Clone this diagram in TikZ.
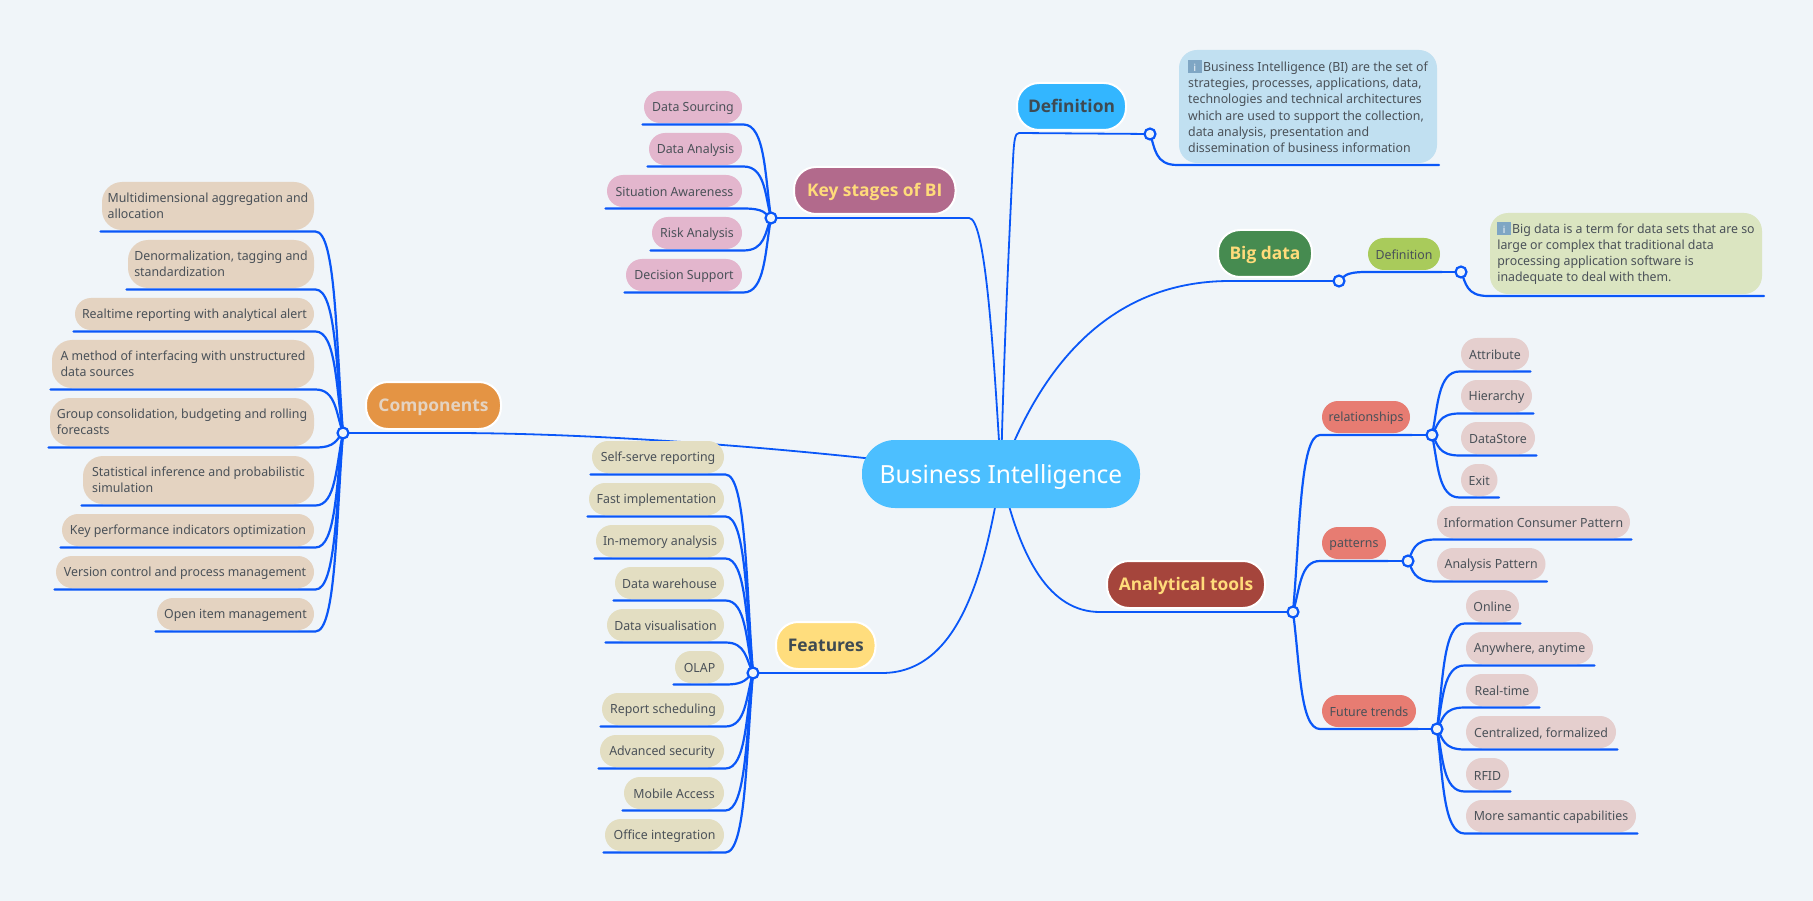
\documentclass[tikz,border=0pt]{standalone}
\usepackage{fontspec}
\setmainfont{Noto Sans}[FakeStretch=0.98]
\newfontfamily\titlefont{Open Sans}
\usetikzlibrary{backgrounds,calc}
\definecolor{bgc}{HTML}{F0F5F9}
\definecolor{linec}{HTML}{0A57F8}
\definecolor{inkc}{HTML}{4A5158}
\definecolor{darkc}{HTML}{3E4A52}
\definecolor{goldc}{HTML}{FFDB7A}
\definecolor{ctrc}{HTML}{4CBFFF}
\definecolor{defc}{HTML}{33B6FF}
\definecolor{keyc}{HTML}{B26A8C}
\definecolor{bigc}{HTML}{468B50}
\definecolor{anac}{HTML}{A5453C}
\definecolor{feac}{HTML}{FFDD7D}
\definecolor{comc}{HTML}{E49444}
\definecolor{coml}{HTML}{E4D3C1}
\definecolor{feal}{HTML}{E3DEC2}
\definecolor{keyl}{HTML}{E3B6CD}
\definecolor{anal}{HTML}{E5CFCE}
\definecolor{redg}{HTML}{E77C72}
\definecolor{defs}{HTML}{A9CB5B}
\definecolor{noteb}{HTML}{C1E0F1}
\definecolor{noteg}{HTML}{DBE5C1}
\definecolor{iconc}{HTML}{7FA6C4}
\tikzset{
  x=1pt,y=-1pt,
  conn/.style={draw=linec,line width=2.2pt,line cap=round},
  conn2/.style={draw=linec,line width=1.8pt},
  box/.style={inner sep=0pt,outer sep=1.5pt,text=inkc,align=left,
    font=\fontsize{12.6}{16}\selectfont},
  pill/.style={box,rounded corners=16pt,execute at begin node={\rule{0pt}{12pt}}},
  wide/.style={box,rounded corners=20pt},
  notebox/.style={box,outer sep=2pt,rounded corners=18pt,
    font=\fontsize{12.6}{16.3}\selectfont},
  group/.style={pill,fill=redg,outer sep=2pt},
  main/.style={inner sep=0pt,rounded corners=22pt,draw=white,line width=2pt,
    text height=12.5pt,text depth=0pt,
    font=\titlefont\fontsize{17.4}{22}\selectfont\bfseries},
  hubdot/.style={circle,inner sep=0pt,minimum size=11pt,draw=linec,line width=2.2pt,fill=bgc},
}
\newcommand\bx[7][]{% style, name, x0,y0,x1,y1, text
  \node[#1,minimum width={#5-#3},minimum height={#6-#4}] (#2) at ({(#3+#5)/2},{(#4+#6)/2}) {#7};}
\newcommand\lb[3]{% leaf on the left of hub
  \draw[conn] let \p1=(#1.south west),\p2=(#1.south east),\p3=(#2.center) in
    (\p1) -- (\p2) .. controls (\x3-#3pt,\y2) and (\x3-#3pt,{0.45*\y2+0.55*\y3}) .. (\p3);}
\newcommand\rb[3]{% leaf on the right of hub
  \draw[conn] let \p1=(#1.south east),\p2=(#1.south west),\p3=(#2.center) in
    (\p1) -- (\p2) .. controls (\x3+#3pt,\y2) and (\x3+#3pt,{0.45*\y2+0.55*\y3}) .. (\p3);}
\newcommand\infoicon{\textcolor{iconc}{\rule[-1.6pt]{13.4pt}{12.6pt}}\llap{\makebox[13.4pt]{\color{white}\bfseries\fontsize{10}{10}\selectfont i}}\hspace{1.5pt}}
\begin{document}
\begin{tikzpicture}
\useasboundingbox (0,0) rectangle (1813,901);
% central
\bx[inner sep=0pt,rounded corners=33pt,fill=ctrc,text=white,font=\fontsize{25}{30}\selectfont]{ctr}{862}{440}{1140}{508}{\rule{0pt}{25pt}Business Intelligence}
% main topics
\bx[main,fill=defc,text=darkc]{def}{1017}{83}{1126}{130}{Definition}
\bx[main,fill=keyc,text=goldc]{key}{794}{167}{955.5}{214}{Key stages of BI}
\bx[main,fill=bigc,text=goldc]{big}{1218}{230}{1312}{277}{Big data}
\bx[main,fill=anac,text=goldc]{ana}{1107}{561}{1265}{608}{Analytical tools}
\bx[main,fill=feac,text=darkc]{fea}{776}{622}{875.5}{669}{Features}
\bx[main,fill=comc,text=coml]{com}{366}{382}{501}{429}{Components}
% hubs
\node[hubdot] (hD) at (1150,134) {};
\node[hubdot] (hK) at (771,218) {};
\node[hubdot] (hB) at (1339,281) {};
\node[hubdot] (hS) at (1461,272) {};
\node[hubdot] (hA) at (1293,612) {};
\node[hubdot] (hF) at (753,673) {};
\node[hubdot] (hC) at (343,433) {};
\node[hubdot] (hR) at (1432,435) {};
\node[hubdot] (hP) at (1408,561) {};
\node[hubdot] (hT) at (1437,729) {};
% notes
\bx[notebox,fill=noteb]{n1}{1179}{50}{1437}{163}{\infoicon Business Intelligence (BI) are the set of\\strategies, processes, applications, data,\\technologies and technical architectures\\which are used to support the collection,\\data analysis, presentation and\\dissemination of business information}
\bx[group,fill=defs]{sd}{1368}{238}{1440}{270}{Definition}
\bx[notebox,fill=noteg]{n2}{1490}{213}{1762}{294}{\infoicon Big data is a term for data sets that are so\\large or complex that traditional data\\processing application software is\\inadequate to deal with them.}
% key stages
\bx[pill,fill=keyl]{k1}{644}{91}{742}{123}{Data Sourcing}
\bx[pill,fill=keyl]{k2}{649}{133}{742}{165}{Data Analysis}
\bx[pill,fill=keyl]{k3}{607}{175}{742}{207}{Situation Awareness}
\bx[pill,fill=keyl]{k4}{652}{217}{742}{249}{Risk Analysis}
\bx[pill,fill=keyl]{k5}{626}{259}{742}{291}{Decision Support}
% components
\bx[wide,fill=coml]{c1}{102}{182}{314}{230}{Multidimensional aggregation and\\allocation}
\bx[wide,fill=coml]{c2}{128}{240}{314}{288}{Denormalization, tagging and\\standardization}
\bx[pill,fill=coml]{c3}{75}{298}{314}{330}{Realtime reporting with analytical alert}
\bx[wide,fill=coml]{c4}{52}{340}{314}{388}{A method of interfacing with unstructured\\data sources}
\bx[wide,fill=coml]{c5}{50}{398}{314}{446}{Group consolidation, budgeting and rolling\\forecasts}
\bx[wide,fill=coml]{c6}{83}{456}{314}{504}{Statistical inference and probabilistic\\simulation}
\bx[pill,fill=coml]{c7}{62}{514}{314}{546}{Key performance indicators optimization}
\bx[pill,fill=coml]{c8}{56}{556}{314}{588}{Version control and process management}
\bx[pill,fill=coml]{c9}{157}{598}{314}{630}{Open item management}
% features
\bx[pill,fill=feal]{f1}{592}{441}{724}{473}{Self-serve reporting}
\bx[pill,fill=feal]{f2}{589}{483}{724}{515}{Fast implementation}
\bx[pill,fill=feal]{f3}{596}{525}{724}{557}{In-memory analysis}
\bx[pill,fill=feal]{f4}{615}{567}{724}{599}{Data warehouse}
\bx[pill,fill=feal]{f5}{607}{609}{724}{641}{Data visualisation}
\bx[pill,fill=feal]{f6}{675}{651}{724}{683}{OLAP}
\bx[pill,fill=feal]{f7}{602}{693}{724}{725}{Report scheduling}
\bx[pill,fill=feal]{f8}{600}{735}{724}{767}{Advanced security}
\bx[pill,fill=feal]{f9}{624}{777}{724}{809}{Mobile Access}
\bx[pill,fill=feal]{f10}{605}{819}{724}{851}{Office integration}
% analytical groups
\bx[group]{g1}{1322}{401}{1410}{433}{relationships}
\bx[group]{g2}{1322}{527}{1386}{559}{patterns}
\bx[group]{g3}{1322}{695}{1416}{727}{Future trends}
\bx[pill,fill=anal]{r1}{1461}{338}{1529}{370}{Attribute}
\bx[pill,fill=anal]{r2}{1461}{380}{1532}{412}{Hierarchy}
\bx[pill,fill=anal]{r3}{1461}{422}{1535}{454}{DataStore}
\bx[pill,fill=anal]{r4}{1461}{464}{1497.5}{496}{Exit}
\bx[pill,fill=anal]{p1}{1437}{506}{1630}{538}{Information Consumer Pattern}
\bx[pill,fill=anal]{p2}{1437}{548}{1545.5}{580}{Analysis Pattern}
\bx[pill,fill=anal]{t1}{1466}{590}{1519}{622}{Online}
\bx[pill,fill=anal]{t2}{1466}{632}{1593}{664}{Anywhere, anytime}
\bx[pill,fill=anal]{t3}{1466}{674}{1538}{706}{Real-time}
\bx[pill,fill=anal]{t4}{1466}{716}{1616}{748}{Centralized, formalized}
\bx[pill,fill=anal]{t5}{1466}{758}{1509}{790}{RFID}
\bx[pill,fill=anal]{t6}{1466}{800}{1636}{832}{More samantic capabilities}
% connectors
\begin{scope}[on background layer]
\fill[bgc] (0,0) rectangle (1813,901);
\draw[conn2] (hC.center) -- (450,433) .. controls (600,433) and (800,448) .. (ctr.center);
\draw[conn2] (hF.center) -- (882,673) .. controls (960,673) and (985,570) .. (ctr.center);
\draw[conn2] (hK.center) -- (969,218) .. controls (985,218) and (993,340) .. (ctr.center);
\draw[conn2] (hD.center) -- (1019,133) .. controls (1015,133) and (1014,140) .. (1013,160) .. controls (1008,260) and (1003,380) .. (ctr.center);
\draw[conn2] (hB.center) -- (1230,281) .. controls (1130,281) and (1050,340) .. (ctr.center);
\draw[conn2] (hA.center) -- (1100,612) .. controls (1050,612) and (1020,560) .. (ctr.center);
\foreach \i in {1,...,5}{\lb{k\i}{hK}{6}}
\foreach \i in {1,...,9}{\lb{c\i}{hC}{7}}
\foreach \i in {1,...,10}{\lb{f\i}{hF}{7}}
\foreach \i in {1,...,4}{\rb{r\i}{hR}{6}}
\foreach \i in {1,2}{\rb{p\i}{hP}{5}}
\foreach \i in {1,...,6}{\rb{t\i}{hT}{6}}
\foreach \i in {1,2,3}{\rb{g\i}{hA}{7}}
\draw[conn] (g1.south east) -- (hR.center);
\draw[conn] (g2.south east) -- (hP.center);
\draw[conn] (g3.south east) -- (hT.center);
\rb{sd}{hB}{5}
\draw[conn] (sd.south east) -- (hS.center);
\rb{n1}{hD}{5}
\rb{n2}{hS}{5}
\end{scope}
\end{tikzpicture}
\end{document}
